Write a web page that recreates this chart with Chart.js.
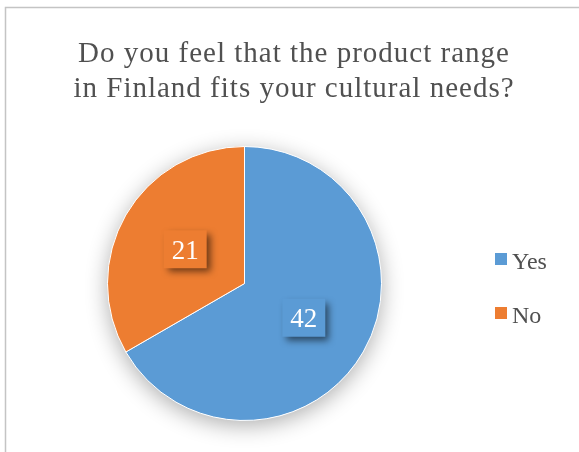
<!DOCTYPE html>
<html>
<head>
<meta charset="utf-8">
<script src="https://cdn.jsdelivr.net/npm/chart.js@4/dist/chart.umd.min.js"></script>
<style>
  html, body { margin: 0; padding: 0; background: #fff; }
  #wrap { width: 579px; height: 452px; }
</style>
</head>
<body>
<div id="wrap"><canvas id="pieChart" width="579" height="452"></canvas></div>
<script>
const titleLines = ["Do you feel that the product range", "in Finland fits your cultural needs?"];
const answers = ["Yes", "No"];
const counts = [42, 21];
const sliceColors = ["#5B9BD5", "#ED7D31"];

const serif = "'Liberation Serif', 'Times New Roman', serif";
const textGray = "#505050";

// frame, title and the soft drop shadow under the pie
const backdrop = {
    id: "backdrop",
    beforeDraw(chart) {
        const ctx = chart.ctx;
        ctx.save();
        ctx.strokeStyle = "#c4c4c4";
        ctx.lineWidth = 1.5;
        ctx.strokeRect(5.5, 7.5, 800, 800);
        ctx.fillStyle = textGray;
        ctx.font = `29px ${serif}`;
        ctx.letterSpacing = "1px";
        ctx.textAlign = "center";
        ctx.textBaseline = "alphabetic";
        titleLines.forEach((line, i) => ctx.fillText(line, 294, 62 + i * 34.5));
        ctx.restore();
    },
    beforeDatasetsDraw(chart) {
        const arc = chart.getDatasetMeta(0).data[0];
        if (!arc) return;
        const ctx = chart.ctx;
        ctx.save();
        ctx.shadowColor = "rgba(0,0,0,0.32)";
        ctx.shadowBlur = 22;
        ctx.shadowOffsetY = 5;
        ctx.fillStyle = "#ffffff";
        ctx.beginPath();
        ctx.arc(arc.x, arc.y, arc.outerRadius, 0, Math.PI * 2);
        ctx.fill();
        ctx.restore();
    }
};

// value boxes with a shadow, placed half way along each slice
const valueBoxes = {
    id: "valueBoxes",
    afterDatasetsDraw(chart) {
        const ctx = chart.ctx;
        const ds = chart.data.datasets[0];
        chart.getDatasetMeta(0).data.forEach((arc, i) => {
            const { x, y } = arc.tooltipPosition();
            const txt = String(ds.data[i]);
            ctx.save();
            ctx.font = `27px ${serif}`;
            const w = ctx.measureText(txt).width + 16;
            const h = 38;
            ctx.shadowColor = "rgba(0,0,0,0.55)";
            ctx.shadowBlur = 7;
            ctx.shadowOffsetX = 4;
            ctx.shadowOffsetY = 4;
            ctx.fillStyle = ds.backgroundColor[i];
            ctx.fillRect(x - w / 2, y - h / 2, w, h);
            ctx.shadowColor = "transparent";
            ctx.fillStyle = "#ffffff";
            ctx.textAlign = "center";
            ctx.textBaseline = "alphabetic";
            ctx.fillText(txt, x, y + 9.5);
            ctx.restore();
        });
    }
};

// legend on the right
const sideLegend = {
    id: "sideLegend",
    afterDraw(chart) {
        const ctx = chart.ctx;
        const ds = chart.data.datasets[0];
        ctx.save();
        ctx.font = `24px ${serif}`;
        ctx.textBaseline = "alphabetic";
        chart.data.labels.forEach((lab, i) => {
            const base = 269 + i * 54;
            ctx.fillStyle = ds.backgroundColor[i];
            ctx.fillRect(495, base - 16, 12, 12);
            ctx.fillStyle = textGray;
            ctx.fillText(lab, 512, base);
        });
        ctx.restore();
    }
};

new Chart(document.getElementById("pieChart"), {
    type: "pie",
    data: {
        labels: answers,
        datasets: [{
            data: counts,
            backgroundColor: sliceColors,
            borderColor: "#ffffff",
            borderWidth: 1
        }]
    },
    options: {
        responsive: false,
        animation: false,
        devicePixelRatio: 1,
        layout: { padding: { left: 107, right: 197, top: 146, bottom: 31 } },
        plugins: {
            legend: { display: false },
            title: { display: false },
            tooltip: { enabled: false }
        }
    },
    plugins: [backdrop, valueBoxes, sideLegend]
});
</script>
</body>
</html>
